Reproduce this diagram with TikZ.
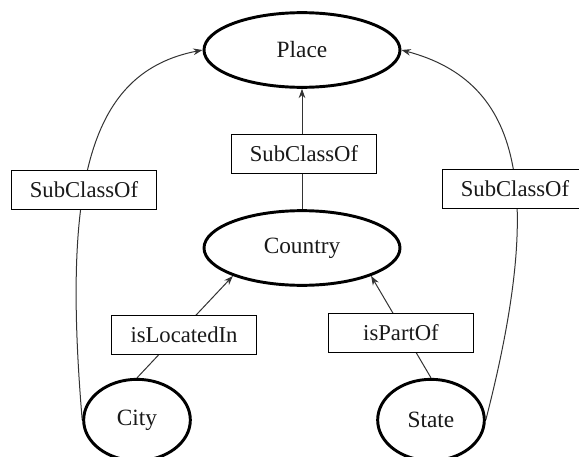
\documentclass[tikz,border=0pt]{standalone}
\usepackage{fontspec}
\setmainfont{Liberation Serif}
\usetikzlibrary{arrows.meta,shapes.geometric}
\pgfdeclarelayer{bg}
\pgfsetlayers{bg,main}
\begin{document}
\begin{tikzpicture}[x=0.75pt,y=-0.75pt,
  cls/.style={ellipse,draw,line width=2.2pt,minimum width=147pt,minimum height=56pt,
    inner sep=0pt,font=\fontsize{17.5}{20}\selectfont,text=black!90},
  small/.style={cls,minimum width=80pt,minimum height=61pt},
  rel/.style={rectangle,draw,fill=white,line width=0.7pt,minimum width=109pt,
    minimum height=29pt,inner sep=0pt,font=\fontsize{17}{20}\selectfont,text=black!90},
  link/.style={line width=0.75pt,draw=black!80},
  tip/.style={-{Stealth[length=7pt,width=5pt]}}]
\useasboundingbox (0,0) rectangle (579,457);

% classes
\node[cls]   (place)   at (302,50)  {Place};
\node[cls]   (country) at (302,248) {Country};
\node[small] (city)    at (137,420) {City};
\node[small] (state)   at (431,420) {State};

% relation labels
\node[rel] (subC) at (304,154) {SubClassOf};
\node[rel] (subL) at (84,190)  {SubClassOf};
\node[rel] (subR) at (515,189) {SubClassOf};
\node[rel] (locIn) at (184,335) {isLocatedIn};
\node[rel] (partOf) at (401,333) {isPartOf};

% connectors, drawn beneath the labels
\begin{pgfonlayer}{bg}
  \draw[link,tip] (country.north) -- (place.south);
  \draw[link,tip] (city.north) -- (country.202);
  \draw[link,tip] (state.north) -- (country.-22);
  \draw[link,tip] (city.west) .. controls (62,180) and (90,72) .. (place.west);
  \draw[link,tip] (state.east) .. controls (545,190) and (522,82) .. (place.east);
\end{pgfonlayer}
\end{tikzpicture}
\end{document}
